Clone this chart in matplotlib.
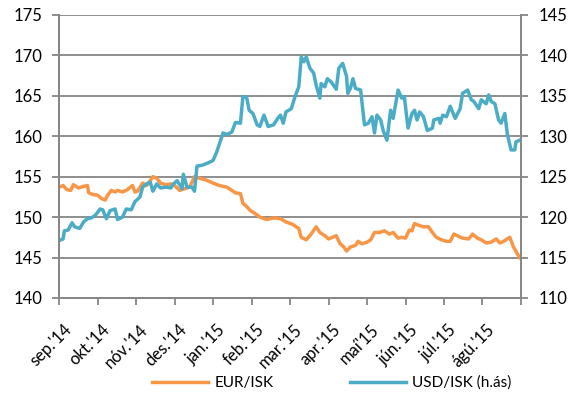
import pandas as pd
import matplotlib.pyplot as plt
from matplotlib.transforms import ScaledTranslation

# === Data ===
eur_dates = ["2014-09-01", "2014-09-04", "2014-09-07", "2014-09-10", "2014-09-12", "2014-09-16",
             "2014-09-20", "2014-09-23", "2014-09-24", "2014-09-27", "2014-10-01", "2014-10-04",
             "2014-10-07", "2014-10-09", "2014-10-12", "2014-10-15", "2014-10-17", "2014-10-21",
             "2014-10-25", "2014-10-29", "2014-10-31", "2014-11-02", "2014-11-06", "2014-11-09",
             "2014-11-12", "2014-11-14", "2014-11-17", "2014-11-20", "2014-11-24", "2014-11-28",
             "2014-12-01", "2014-12-05", "2014-12-09", "2014-12-13", "2014-12-17", "2014-12-21",
             "2014-12-26", "2015-01-01", "2015-01-06", "2015-01-12", "2015-01-14", "2015-01-19",
             "2015-01-23", "2015-01-25", "2015-01-28", "2015-01-31", "2015-02-03", "2015-02-07",
             "2015-02-12", "2015-02-17", "2015-02-22", "2015-02-26", "2015-03-03", "2015-03-08",
             "2015-03-10", "2015-03-14", "2015-03-18", "2015-03-22", "2015-03-25", "2015-03-29",
             "2015-04-01", "2015-04-04", "2015-04-07", "2015-04-10", "2015-04-13", "2015-04-15",
             "2015-04-18", "2015-04-22", "2015-04-24", "2015-04-27", "2015-05-01", "2015-05-04",
             "2015-05-07", "2015-05-11", "2015-05-15", "2015-05-19", "2015-05-22", "2015-05-26",
             "2015-05-29", "2015-06-01", "2015-06-04", "2015-06-06", "2015-06-08", "2015-06-11",
             "2015-06-15", "2015-06-19", "2015-06-21", "2015-06-25", "2015-06-29", "2015-07-03",
             "2015-07-06", "2015-07-09", "2015-07-13", "2015-07-16", "2015-07-21", "2015-07-24",
             "2015-07-28", "2015-07-31", "2015-08-04", "2015-08-08", "2015-08-12", "2015-08-15",
             "2015-08-18", "2015-08-23", "2015-08-26", "2015-08-29", "2015-08-31"]
eur_isk = [153.7, 153.9, 153.4, 153.3, 154.0, 153.6, 153.8, 153.9, 153.0, 152.8, 152.7, 152.3,
           152.1, 152.7, 153.3, 153.1, 153.3, 153.1, 153.4, 153.9, 153.1, 153.2, 154.2, 153.9,
           154.5, 155.0, 154.8, 154.2, 154.0, 154.1, 153.9, 153.3, 153.5, 153.7, 155.0, 154.8,
           154.6, 154.2, 153.9, 153.7, 153.5, 153.0, 152.9, 151.7, 151.3, 150.8, 150.5, 150.0,
           149.7, 149.9, 149.8, 149.4, 149.1, 148.6, 147.5, 147.2, 147.9, 148.8, 148.1, 147.7,
           147.3, 147.5, 147.7, 146.7, 146.3, 145.8, 146.3, 146.5, 147.0, 146.7, 146.9, 147.2,
           148.1, 148.1, 148.3, 147.9, 148.1, 147.4, 147.5, 147.4, 148.4, 148.3, 149.2, 149.0,
           148.8, 148.8, 148.3, 147.5, 147.2, 147.0, 147.0, 147.9, 147.6, 147.4, 147.3, 147.9,
           147.4, 147.2, 146.8, 146.9, 147.3, 146.8, 147.0, 147.5, 146.3, 145.5, 145.0]

usd_dates = ["2014-09-01", "2014-09-04", "2014-09-05", "2014-09-08", "2014-09-11", "2014-09-13",
             "2014-09-17", "2014-09-20", "2014-09-23", "2014-09-26", "2014-09-29", "2014-10-03",
             "2014-10-05", "2014-10-08", "2014-10-11", "2014-10-15", "2014-10-17", "2014-10-21",
             "2014-10-24", "2014-10-28", "2014-10-31", "2014-11-04", "2014-11-06", "2014-11-09",
             "2014-11-12", "2014-11-14", "2014-11-17", "2014-11-20", "2014-11-24", "2014-11-28",
             "2014-11-30", "2014-12-03", "2014-12-07", "2014-12-08", "2014-12-11", "2014-12-15",
             "2014-12-17", "2014-12-19", "2014-12-23", "2014-12-28", "2015-01-01", "2015-01-04",
             "2015-01-09", "2015-01-12", "2015-01-16", "2015-01-19", "2015-01-23", "2015-01-25",
             "2015-01-28", "2015-01-30", "2015-02-02", "2015-02-05", "2015-02-07", "2015-02-10",
             "2015-02-13", "2015-02-17", "2015-02-20", "2015-02-22", "2015-02-24", "2015-02-26",
             "2015-03-02", "2015-03-05", "2015-03-08", "2015-03-10", "2015-03-12", "2015-03-14",
             "2015-03-17", "2015-03-20", "2015-03-22", "2015-03-25", "2015-03-26", "2015-03-29",
             "2015-03-31", "2015-04-03", "2015-04-07", "2015-04-09", "2015-04-12", "2015-04-15",
             "2015-04-16", "2015-04-18", "2015-04-20", "2015-04-22", "2015-04-26", "2015-04-29",
             "2015-05-02", "2015-05-05", "2015-05-07", "2015-05-09", "2015-05-12", "2015-05-14",
             "2015-05-17", "2015-05-20", "2015-05-22", "2015-05-26", "2015-05-29", "2015-05-31",
             "2015-06-03", "2015-06-06", "2015-06-08", "2015-06-10", "2015-06-12", "2015-06-15",
             "2015-06-18", "2015-06-22", "2015-06-23", "2015-06-27", "2015-06-28", "2015-06-30",
             "2015-07-03", "2015-07-06", "2015-07-10", "2015-07-14", "2015-07-16", "2015-07-20",
             "2015-07-23", "2015-07-25", "2015-07-29", "2015-07-31", "2015-08-04", "2015-08-06",
             "2015-08-08", "2015-08-11", "2015-08-14", "2015-08-16", "2015-08-19", "2015-08-21",
             "2015-08-24", "2015-08-27", "2015-08-28", "2015-08-31"]
usd_isk = [117.1, 117.3, 118.3, 118.4, 119.3, 118.8, 118.6, 119.4, 119.8, 119.9, 120.2, 121.0,
           120.9, 119.8, 120.8, 121.0, 119.7, 120.0, 121.0, 120.9, 121.9, 122.5, 123.7, 124.1,
           124.3, 123.2, 124.1, 123.6, 123.7, 123.6, 124.1, 124.5, 123.5, 125.3, 123.7, 123.7,
           123.2, 126.3, 126.4, 126.7, 127.0, 128.1, 130.4, 130.2, 130.5, 131.7, 131.6, 134.9,
           134.8, 133.2, 132.8, 131.4, 131.2, 132.6, 131.2, 131.4, 132.2, 132.6, 131.6, 133.0,
           133.4, 134.9, 136.1, 139.8, 139.2, 139.8, 138.4, 137.8, 136.3, 134.7, 136.5, 136.1,
           137.1, 136.7, 135.8, 138.4, 139.0, 137.4, 135.3, 135.9, 137.1, 135.9, 135.7, 131.4,
           131.6, 132.4, 130.4, 132.6, 132.0, 130.7, 129.5, 133.2, 132.2, 135.7, 134.7, 134.9,
           131.0, 132.8, 133.2, 132.0, 133.0, 132.4, 130.7, 131.0, 132.0, 132.2, 131.6, 132.6,
           132.4, 133.7, 132.2, 133.4, 135.3, 135.7, 134.5, 134.3, 133.4, 134.5, 134.0, 135.1,
           134.3, 134.0, 132.0, 131.6, 132.8, 130.3, 128.3, 128.3, 129.3, 129.5]

manudir = ["sep.'14", "okt.'14", "nóv.'14", "des.'14", "jan.'15", "feb.'15",
           "mar.'15", "apr.'15", "maí'15", "jún.'15", "júl.'15", "ágú.'15"]


# Excel-style axis: every month gets the same width
def man_pos(dagsetningar):
    d = pd.to_datetime(pd.Series(dagsetningar))
    return ((d.dt.year - 2014) * 12 + d.dt.month - 9 + (d.dt.day - 1) / d.dt.days_in_month).values


plt.rcParams['font.family'] = ['Lato', 'DejaVu Sans']
lit_eur = '#F79646'
lit_usd = '#4BACC6'
grar = '#868686'

fig = plt.figure(figsize=(5.75, 4), dpi=100)
ax = fig.add_axes([0.103, 0.255, 0.803, 0.708])
ax2 = ax.twinx()

ax.plot(man_pos(eur_dates), eur_isk, color=lit_eur, lw=2.5, label='EUR/ISK', solid_joinstyle='round')
ax2.plot(man_pos(usd_dates), usd_isk, color=lit_usd, lw=2.5, label='USD/ISK (h.ás)', solid_joinstyle='round')

ax.set_xlim(0, 12)
ax.set_ylim(140, 175)
ax2.set_ylim(110, 145)
ax.set_yticks(range(140, 176, 5))
ax2.set_yticks(range(110, 146, 5))
ax.yaxis.grid(True, color=grar, lw=1.3)
ax.set_axisbelow(True)

ax.set_xticks(range(0, 13))
ax.set_xticklabels(manudir + [''], rotation=45, ha='right', rotation_mode='anchor')

for a in (ax, ax2):
    a.spines['top'].set_visible(False)
    for s in ('left', 'right', 'bottom'):
        a.spines[s].set_color(grar)
        a.spines[s].set_linewidth(1.3)
    a.tick_params(colors=grar, width=1.3, length=5, labelcolor='black', labelsize=12)
ax.tick_params(axis='y', pad=7)
ax2.tick_params(axis='y', pad=8)
ax.tick_params(axis='x', pad=12)

# shift the month labels a little to the right, like Excel does
offset = ScaledTranslation(4 / 100, 0, fig.dpi_scale_trans)
for lbl in ax.get_xticklabels():
    lbl.set_transform(lbl.get_transform() + offset)

# legend below the chart
h1, l1 = ax.get_legend_handles_labels()
h2, l2 = ax2.get_legend_handles_labels()
fig.legend(h1 + h2, l1 + l2, loc='center', bbox_to_anchor=(0.577, 0.043), ncol=2,
           frameon=False, fontsize=11, handlelength=3.7, columnspacing=5.0, handletextpad=0.4)

plt.savefig('out.png', dpi=100)
